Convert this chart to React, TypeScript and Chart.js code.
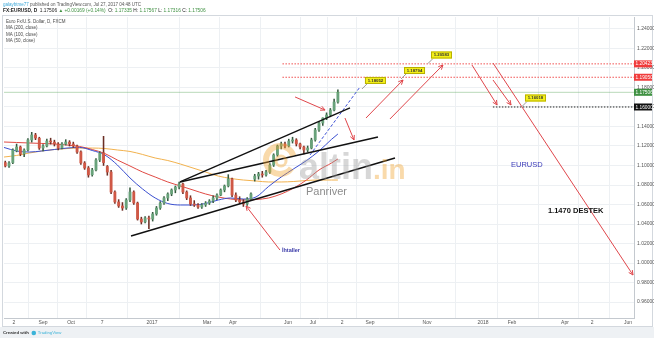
import { useEffect, useRef } from 'react';
import { Chart, registerables } from 'chart.js';
Chart.register(...registerables);

// ---- DATA ----
// daily candles grouped by 3 trading days: [open, high, low, close]
const candles: number[][] = [
  [1.1030, 1.1045, 1.0985, 1.0995], [1.0995, 1.1040, 1.0980, 1.1026], [1.1030, 1.1170, 1.1020, 1.1159],
  [1.1150, 1.1220, 1.1140, 1.1190], [1.1190, 1.1200, 1.1100, 1.1118], [1.1120, 1.1170, 1.1090, 1.1159],
  [1.1160, 1.1275, 1.1150, 1.1262], [1.1262, 1.1340, 1.1240, 1.1313], [1.1313, 1.1330, 1.1265, 1.1282],
  [1.1280, 1.1290, 1.1165, 1.1179], [1.1180, 1.1215, 1.1150, 1.1200], [1.1200, 1.1270, 1.1190, 1.1251],
  [1.1250, 1.1280, 1.1220, 1.1241], [1.1240, 1.1260, 1.1200, 1.1221], [1.1220, 1.1235, 1.1160, 1.1179],
  [1.1180, 1.1235, 1.1170, 1.1221], [1.1220, 1.1265, 1.1210, 1.1241], [1.1240, 1.1255, 1.1200, 1.1221],
  [1.1220, 1.1240, 1.1185, 1.1200], [1.1200, 1.1210, 1.1125, 1.1138], [1.1140, 1.1150, 1.1010, 1.1026],
  [1.1026, 1.1040, 1.0960, 1.0974], [1.0975, 1.0990, 1.0880, 1.0903], [1.0905, 1.0970, 1.0890, 1.0954],
  [1.0955, 1.1070, 1.0945, 1.1056], [1.1056, 1.1140, 1.1040, 1.1128], [1.1130, 1.1299, 1.1000, 1.1030],
  [1.0990, 1.1000, 1.0900, 1.0933], [1.0933, 1.0950, 1.0710, 1.0728], [1.0728, 1.0740, 1.0610, 1.0626],
  [1.0626, 1.0650, 1.0570, 1.0585], [1.0585, 1.0620, 1.0540, 1.0564], [1.0564, 1.0660, 1.0550, 1.0646],
  [1.0646, 1.0770, 1.0630, 1.0728], [1.0728, 1.0740, 1.0600, 1.0615], [1.0615, 1.0625, 1.0440, 1.0451],
  [1.0451, 1.0470, 1.0400, 1.0421], [1.0421, 1.0475, 1.0410, 1.0462], [1.0462, 1.0480, 1.0352, 1.0451],
  [1.0451, 1.0520, 1.0430, 1.0503], [1.0503, 1.0580, 1.0490, 1.0564], [1.0564, 1.0630, 1.0550, 1.0615],
  [1.0615, 1.0680, 1.0600, 1.0667], [1.0667, 1.0720, 1.0640, 1.0708], [1.0708, 1.0760, 1.0690, 1.0749],
  [1.0749, 1.0790, 1.0720, 1.0779], [1.0779, 1.0830, 1.0760, 1.0810], [1.0810, 1.0820, 1.0710, 1.0728],
  [1.0728, 1.0740, 1.0650, 1.0667], [1.0667, 1.0690, 1.0590, 1.0605], [1.0605, 1.0640, 1.0580, 1.0595],
  [1.0595, 1.0610, 1.0560, 1.0574], [1.0574, 1.0610, 1.0560, 1.0595], [1.0595, 1.0630, 1.0580, 1.0615],
  [1.0615, 1.0650, 1.0600, 1.0636], [1.0636, 1.0690, 1.0620, 1.0667], [1.0667, 1.0710, 1.0650, 1.0697],
  [1.0697, 1.0760, 1.0690, 1.0749], [1.0749, 1.0800, 1.0730, 1.0790], [1.0790, 1.0906, 1.0780, 1.0862],
  [1.0862, 1.0870, 1.0680, 1.0697], [1.0697, 1.0720, 1.0630, 1.0646], [1.0646, 1.0680, 1.0610, 1.0626],
  [1.0626, 1.0650, 1.0580, 1.0605], [1.0605, 1.0670, 1.0590, 1.0656], [1.0656, 1.0720, 1.0640, 1.0708],
  [1.0860, 1.0910, 1.0840, 1.0892], [1.0892, 1.0930, 1.0860, 1.0913], [1.0913, 1.0940, 1.0880, 1.0903],
  [1.0903, 1.0950, 1.0890, 1.0933], [1.0933, 1.1020, 1.0920, 1.1005], [1.1005, 1.1120, 1.0990, 1.1108],
  [1.1108, 1.1210, 1.1095, 1.1200], [1.1200, 1.1240, 1.1170, 1.1221], [1.1221, 1.1240, 1.1180, 1.1200],
  [1.1200, 1.1270, 1.1190, 1.1251], [1.1251, 1.1290, 1.1230, 1.1262], [1.1262, 1.1275, 1.1200, 1.1221],
  [1.1221, 1.1230, 1.1170, 1.1190], [1.1190, 1.1200, 1.1120, 1.1159], [1.1159, 1.1200, 1.1140, 1.1179],
  [1.1179, 1.1280, 1.1170, 1.1262], [1.1262, 1.1380, 1.1250, 1.1364], [1.1364, 1.1450, 1.1350, 1.1436],
  [1.1436, 1.1490, 1.1410, 1.1487], [1.1487, 1.1540, 1.1470, 1.1518], [1.1518, 1.1585, 1.1500, 1.1569],
  [1.1569, 1.1680, 1.1560, 1.1651], [1.1651, 1.1777, 1.1640, 1.1751],
];
const firstCandleDay = 1;
const daysPerCandle = 3;

// moving averages, read at these trading-day positions
const maDays = [0, 10, 20, 30, 40, 50, 60, 70, 80, 90, 100, 110, 120, 130, 140, 150, 160, 170, 180, 190, 200, 210, 220, 230, 240, 250, 260, 265];
const ma200 = [1.1087, 1.1103, 1.1128, 1.1149, 1.1164, 1.1174, 1.1179, 1.1179, 1.1174, 1.1159, 1.1144, 1.1113, 1.1077, 1.1051, 1.1015, 1.0974, 1.0933, 1.0892, 1.0867, 1.0851, 1.0841, 1.0831, 1.0831, 1.0836, 1.0846, 1.0851, 1.0851, 1.0851];
const ma100 = [1.1241, 1.1236, 1.1231, 1.1226, 1.1221, 1.1210, 1.1195, 1.1164, 1.1123, 1.1056, 1.0995, 1.0933, 1.0882, 1.0831, 1.0790, 1.0749, 1.0708, 1.0677, 1.0656, 1.0646, 1.0651, 1.0667, 1.0708, 1.0769, 1.0851, 1.0954, 1.1026, 1.1067];
const ma50 = [1.1185, 1.1149, 1.1138, 1.1149, 1.1164, 1.1179, 1.1185, 1.1154, 1.1108, 1.1005, 1.0872, 1.0759, 1.0667, 1.0610, 1.0595, 1.0595, 1.0610, 1.0646, 1.0667, 1.0656, 1.0677, 1.0785, 1.0882, 1.0967, 1.1050, 1.1149, 1.1269, 1.1323];

const xTickDays = [7.9, 31, 53.2, 77.8, 117.5, 161.1, 181.7, 225.4, 245.2, 268.3, 290.5, 335.7, 380.2, 403.2, 445.2, 466.7, 495.2];
const xTickLabels = ['2', 'Sep', 'Oct', '7', '2017', 'Mar', 'Apr', 'Jun', 'Jul', '2', 'Sep', 'Nov', '2018', 'Feb', 'Apr', '2', 'Jun'];
const yTicks = [0.96, 0.98, 1.0, 1.02, 1.04, 1.06, 1.08, 1.1, 1.12, 1.14, 1.16, 1.18, 1.2, 1.22, 1.24];

// drawings: [day1, price1, day2, price2]
const channelLines = [
  [139.7, 1.0831, 274.6, 1.1590],
  [139.7, 1.0831, 296.8, 1.1292],
  [100.8, 1.0277, 310.3, 1.1077],
];
const dashedLines = [[242.9, 1.1108, 282.5, 1.1805]];
const redArrows = [
  [231, 1.1703, 254.8, 1.1569],
  [270.6, 1.1487, 277.8, 1.1262],
  [287.3, 1.1487, 316.7, 1.1877],
  [306.3, 1.1477, 348.4, 1.2031],
  [371.4, 1.2031, 391.3, 1.1621],
  [388.1, 1.1877, 402.4, 1.1621],
  [388.1, 1.2051, 499.2, 0.9877],
  [219, 1.0133, 192.1, 1.0585],
];
const resistanceLevels = [1.20423, 1.19050];
const resistanceFromDay = 221;
const supportLevel = 1.16;
const supportFromDay = 388;
const lastPrice = 1.17506;
const callouts = [
  { day: 284.1, price: 1.1785, text: '1.18052' },
  { day: 315.1, price: 1.1887, text: '1.18794' },
  { day: 336.5, price: 1.2046, text: '1.20583' },
  { day: 411.1, price: 1.1605, text: '1.16018' },
];
const notes = [
  { day: 402.4, price: 1.1005, text: 'EURUSD', color: '#3a3ab8', font: '7.5px' },
  { day: 431.7, price: 1.0533, text: '1.1470 DESTEK', color: '#111111', font: 'bold 7.5px' },
  { day: 220.6, price: 1.0133, text: 'İhtaller', color: '#3a3aa8', font: 'bold 5.5px' },
];
const axisLabels = [
  { price: 1.20423, text: '1.20423', color: '#f03c3c' },
  { price: 1.19050, text: '1.19050', color: '#f03c3c' },
  { price: 1.17506, text: '1.17506', color: '#3f9142' },
  { price: 1.16, text: '1.16000', color: '#111111' },
];

const FONT = '"Liberation Sans", Arial, sans-serif';

export default function App() {
  const ref = useRef<HTMLCanvasElement>(null);
  useEffect(() => {
    document.body.style.margin = '0';
    const canvas = ref.current!;
    const seg = (s: number[]) => [{ x: s[0], y: s[1] }, { x: s[2], y: s[3] }];
    const line = (data: any[], color: string, width: number, dash: number[] = [], extra: any = {}) => ({
      type: 'line', data, borderColor: color, borderWidth: width, borderDash: dash,
      pointRadius: 0, fill: false, tension: 0, ...extra,
    });
    const candleDays = candles.map((_, i) => firstCandleDay + i * daysPerCandle);
    const up = candles.map((c) => c[3] >= c[0]);

    const datasets: any[] = [];
    redArrows.forEach((s) => datasets.push(line(seg(s), '#e0474c', 1)));
    channelLines.forEach((s) => datasets.push(line(seg(s), '#111111', 1.4)));
    dashedLines.forEach((s) => datasets.push(line(seg(s), '#3b4fd6', 1, [3, 2])));
    resistanceLevels.forEach((p) => datasets.push(line([{ x: resistanceFromDay, y: p }, { x: 500, y: p }], '#f05050', 1, [1.5, 1.5])));
    datasets.push(line([{ x: supportFromDay, y: supportLevel }, { x: 500, y: supportLevel }], '#222222', 1, [1.5, 1.5]));
    datasets.push(line([{ x: 0, y: lastPrice }, { x: 500, y: lastPrice }], 'rgba(80,160,80,0.4)', 1));
    datasets.push({
      type: 'bar', grouped: false, barThickness: 2.2, minBarLength: 1,
      data: candles.map((c, i) => ({ x: candleDays[i], y: [c[0], c[3]] })),
      backgroundColor: up.map((u) => (u ? '#68a27a' : '#cf5846')), borderWidth: 0,
    });
    datasets.push({
      type: 'bar', grouped: false, barThickness: 0.9,
      data: candles.map((c, i) => ({ x: candleDays[i], y: [c[2], c[1]] })),
      backgroundColor: up.map((u) => (u ? '#35593f' : '#6b2e24')), borderWidth: 0,
    });
    const maLine = (vals: number[], color: string) =>
      line(maDays.map((d, i) => ({ x: d, y: vals[i] })), color, 1, [], { cubicInterpolationMode: 'monotone' });
    datasets.push(maLine(ma50, '#3a4fd0'));
    datasets.push(maLine(ma100, '#e04a44'));
    datasets.push(maLine(ma200, '#f2b24e'));

    const overlay = {
      id: 'overlay',
      beforeDraw(chart: any) {
        const ctx = chart.ctx;
        ctx.save();
        ctx.fillStyle = '#ffffff';
        ctx.fillRect(0, 0, 654, 338);
        ctx.fillStyle = '#eef1f4';
        ctx.fillRect(0, 327, 654, 11);
        ctx.strokeStyle = '#d3d8de';
        ctx.lineWidth = 1;
        ctx.strokeRect(2.5, 15.5, 650, 311);
        ctx.textBaseline = 'middle';
        const run = (x: number, y: number, parts: [string, string, string][]) => {
          for (const [t, c, f] of parts) {
            ctx.font = f + ' ' + FONT;
            ctx.fillStyle = c;
            ctx.fillText(t, x, y);
            x += ctx.measureText(t).width;
          }
          return x;
        };
        run(3, 4.5, [['galaybtme77', '#3ba7d8', '4.5px'], [' published on TradingView.com, Jul 27, 2017 04:48 UTC', '#555', '4.5px']]);
        run(3, 11, [
          ['FX:EURUSD, D', '#222', 'bold 4.8px'], ['  1.17506 ', '#222', '4.8px'], ['▲', '#3f9142', '4.8px'],
          [' +0.00169 (+0.14%)', '#3f9142', '4.8px'], ['  O: ', '#222', '4.8px'], ['1.17335', '#3f9142', '4.8px'],
          [' H: ', '#222', '4.8px'], ['1.17567', '#3f9142', '4.8px'], [' L: ', '#222', '4.8px'], ['1.17316', '#3f9142', '4.8px'],
          [' C: ', '#222', '4.8px'], ['1.17506', '#3f9142', '4.8px'],
        ]);
        const fx = run(3, 333, [['Created with', '#333', 'bold 4.3px']]);
        ctx.fillStyle = '#3bb3d8';
        ctx.beginPath();
        ctx.arc(fx + 5, 333, 2.3, 0, Math.PI * 2);
        ctx.fill();
        run(fx + 9, 333, [['TradingView', '#3bb3d8', '4.3px']]);
        ctx.restore();
      },
      afterDatasetsDraw(chart: any) {
        const ctx = chart.ctx;
        const xs = chart.scales.x, ys = chart.scales.y;
        const px = (d: number) => xs.getPixelForValue(d);
        const py = (p: number) => ys.getPixelForValue(p);
        ctx.save();
        // watermark
        ctx.globalAlpha = 0.4;
        ctx.strokeStyle = '#f0a22c';
        ctx.lineWidth = 6;
        ctx.beginPath();
        ctx.arc(280, 160, 14, Math.PI * 0.2, Math.PI * 1.9);
        ctx.stroke();
        ctx.lineWidth = 3;
        ctx.beginPath();
        ctx.arc(281, 161, 5, 0, Math.PI * 2);
        ctx.stroke();
        ctx.textBaseline = 'alphabetic';
        ctx.font = 'bold 36px ' + FONT;
        ctx.fillStyle = '#9a9a9a';
        ctx.fillText('altin', 299, 179);
        const w = ctx.measureText('altin').width;
        ctx.font = 'bold 28px ' + FONT;
        ctx.fillStyle = '#f0a22c';
        ctx.fillText('.in', 299 + w, 179);
        ctx.globalAlpha = 1;
        ctx.font = '11px ' + FONT;
        ctx.fillStyle = '#8d8d8d';
        ctx.textBaseline = 'middle';
        ctx.fillText('Panriver', 306, 192);
        // arrowheads
        ctx.strokeStyle = '#e0474c';
        ctx.lineWidth = 1;
        for (const s of redArrows) {
          const x1 = px(s[0]), y1 = py(s[1]), x2 = px(s[2]), y2 = py(s[3]);
          const a = Math.atan2(y2 - y1, x2 - x1);
          ctx.beginPath();
          ctx.moveTo(x2 - 5 * Math.cos(a - 0.45), y2 - 5 * Math.sin(a - 0.45));
          ctx.lineTo(x2, y2);
          ctx.lineTo(x2 - 5 * Math.cos(a + 0.45), y2 - 5 * Math.sin(a + 0.45));
          ctx.stroke();
        }
        // callouts
        for (const c of callouts) {
          const tx = px(c.day), ty = py(c.price);
          ctx.strokeStyle = '#9a9a9a';
          ctx.lineWidth = 1;
          ctx.beginPath();
          ctx.moveTo(tx, ty);
          ctx.lineTo(tx + 5, ty - 5);
          ctx.stroke();
          ctx.fillStyle = '#f4f01a';
          ctx.fillRect(tx + 3, ty - 12, 21, 7);
          ctx.strokeStyle = '#b8b000';
          ctx.strokeRect(tx + 3.5, ty - 11.5, 20, 6);
          ctx.fillStyle = '#333';
          ctx.font = 'bold 4.3px ' + FONT;
          ctx.textAlign = 'center';
          ctx.fillText(c.text, tx + 13.5, ty - 8.3);
          ctx.textAlign = 'left';
        }
        for (const n of notes) {
          ctx.font = n.font + ' ' + FONT;
          ctx.fillStyle = n.color;
          ctx.fillText(n.text, px(n.day), py(n.price));
        }
        ctx.font = '4.5px ' + FONT;
        ctx.fillStyle = '#4a4a4a';
        ['Euro Fx/U.S. Dollar, D, FXCM', 'MA (200, close)', 'MA (100, close)', 'MA (50, close)'].forEach((t, i) => {
          ctx.fillText(t, 6, 22 + i * 6.2);
        });
        ctx.restore();
      },
      afterDraw(chart: any) {
        const ctx = chart.ctx;
        const ys = chart.scales.y;
        const right = chart.chartArea.right;
        ctx.save();
        ctx.textBaseline = 'middle';
        for (const l of axisLabels) {
          const y = ys.getPixelForValue(l.price);
          ctx.fillStyle = l.color;
          ctx.fillRect(right, y - 3.5, 18, 7);
          ctx.fillStyle = '#ffffff';
          ctx.font = '4.8px ' + FONT;
          ctx.fillText(l.text, right + 1.5, y + 0.3);
        }
        ctx.restore();
      },
    };

    const chart = new Chart(canvas, {
      type: 'bar',
      data: { datasets },
      options: {
        animation: false,
        responsive: false,
        devicePixelRatio: 1,
        events: [],
        layout: { padding: { left: 4, top: 17, right: 0, bottom: 9 } },
        plugins: { legend: { display: false }, tooltip: { enabled: false } },
        scales: {
          x: {
            type: 'linear', min: 0, max: 500, offset: false,
            afterBuildTicks: (s: any) => { s.ticks = xTickDays.map((v) => ({ value: v })); },
            afterFit: (s: any) => { s.height = 11; },
            ticks: {
              autoSkip: false, maxRotation: 0, padding: 2, color: '#555',
              font: { size: 5, family: FONT },
              callback: (_v: any, i: number) => xTickLabels[i],
            },
            grid: { color: '#edf0f3', drawTicks: false },
            border: { color: '#c4c9cf' },
          },
          y: {
            type: 'linear', position: 'right', min: 0.9436, max: 1.2523,
            afterBuildTicks: (s: any) => { s.ticks = yTicks.map((v) => ({ value: v })); },
            afterFit: (s: any) => { s.width = 20; },
            ticks: {
              padding: 3, color: '#555', font: { size: 5, family: FONT },
              callback: (v: any) => Number(v).toFixed(5),
            },
            grid: { color: '#edf0f3', drawTicks: false },
            border: { color: '#c4c9cf' },
          },
        },
      } as any,
      plugins: [overlay],
    } as any);
    return () => chart.destroy();
  }, []);
  return <canvas ref={ref} width={654} height={338} style={{ display: 'block' }} />;
}
